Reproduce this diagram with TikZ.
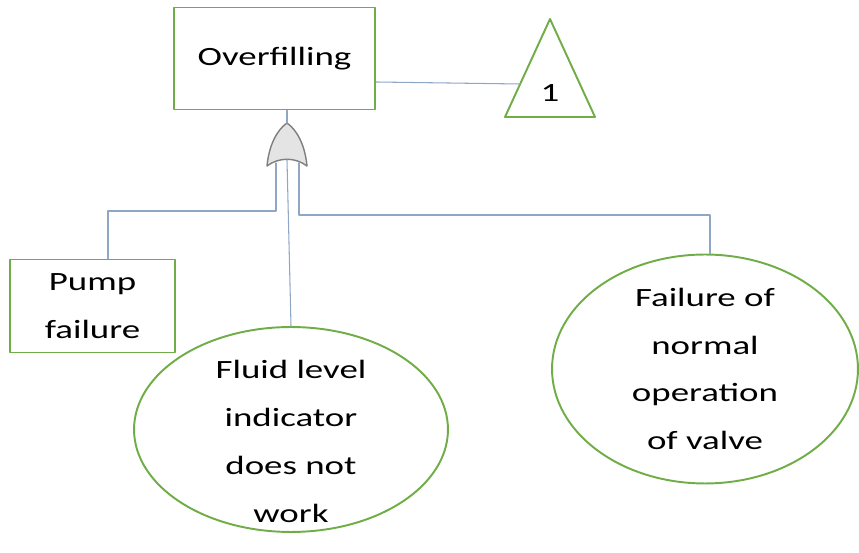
\documentclass[tikz,border=0pt]{standalone}
\usepackage{fontspec}
\setmainfont{Carlito}[FakeStretch=1.4]
\usetikzlibrary{shapes.geometric}
\definecolor{evgreen}{HTML}{70AD47}
\definecolor{linkblue}{HTML}{8FA6C4}
\definecolor{gatefill}{HTML}{E4E4E4}
\definecolor{gateline}{HTML}{7F7F7F}

\begin{document}
\begin{tikzpicture}[x=0.02cm,y=-0.02cm,line cap=round,line join=round,
  txt/.style={align=center,font=\fontsize{15}{27.2}\selectfont},
  event/.style={txt,draw=evgreen,line width=1.1pt,fill=white,inner sep=0pt},
  basic/.style={event,ellipse},
  link/.style={draw=linkblue,line width=0.6pt}]
  \useasboundingbox (0,0) rectangle (859,553);
  \node[event,minimum width=4.02cm,minimum height=2.04cm] (top) at (274.5,58.5) {Overfilling};
  \draw[draw=evgreen,line width=1.1pt] (550,19) -- (595,117) -- (505,117) -- cycle;
  \coordinate (trans) at (520,84);
  \node[txt] (one) at (550,93) {1};
  \draw[link] ([yshift=-0.47cm]top.east) -- (trans);
  \coordinate (gtop) at (287,123);
  \filldraw[fill=gatefill,draw=gateline,line width=0.8pt] (gtop) .. controls (297,130) and (305,145) .. (307,166)
    .. controls (295,157) and (279,157) .. (267,166) .. controls (269,145) and (277,130) .. (gtop);
  \coordinate (gin1) at (276,163);
  \coordinate (gin2) at (287,160);
  \coordinate (gin3) at (299,163);
  \draw[link] (gtop |- top.south) -- (gtop);
  \node[event,minimum width=3.3cm,minimum height=1.86cm] (pump) at (92.5,306) {Pump\\failure};
  \node[basic,minimum width=6.28cm,minimum height=4.1cm,
    label={[txt,yshift=-0.24cm]center:Fluid level\\indicator\\does not\\work}] (fluid) at (291,429.5) {};
  \node[basic,minimum width=6.12cm,minimum height=4.58cm] (valve) at (705,369) {Failure of\\normal\\operation\\of valve};
  \draw[link] (gin1) -- ++(0,48) -| ([xshift=0.31cm]pump.north);
  \draw[link] (gin2) -- (fluid.north);
  \draw[link] (gin3) -- ++(0,52) -| ([xshift=0.1cm]valve.north);
\end{tikzpicture}
\end{document}
